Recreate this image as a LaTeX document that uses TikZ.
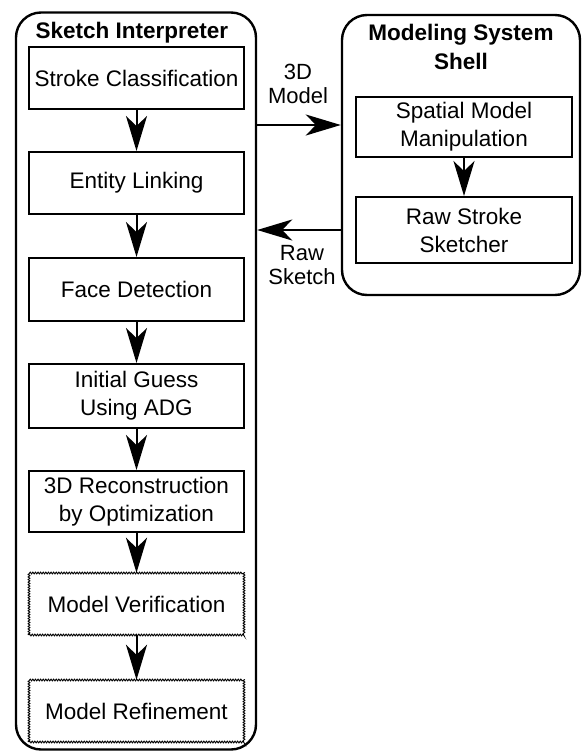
\documentclass[tikz,border=0pt]{standalone}
\usepackage{fontspec}
\setmainfont{Liberation Sans}
\usetikzlibrary{arrows.meta,decorations.pathmorphing}

\tikzset{
  container/.style={draw, line width=2.4pt, rounded corners=25pt, inner sep=0pt},
  stage/.style={draw, line width=2pt, inner sep=0pt, align=center,
    font=\fontsize{22.5}{28}\selectfont},
  pending/.style={inner sep=0pt, align=center, font=\fontsize{22.5}{28}\selectfont,
    postaction={draw, line width=0.9pt,
      decorate, decoration={zigzag, amplitude=0.9pt, segment length=2.6pt}}},
  heading/.style={font=\bfseries\fontsize{22.5}{29}\selectfont, align=center, inner sep=0pt},
  label/.style={font=\fontsize{22}{24}\selectfont, align=center, inner sep=0pt},
  flow/.style={line width=2pt,
    -{Stealth[length=35pt, width=21pt, inset=10pt]}},
}

\begin{document}
\begin{tikzpicture}[x=1pt, y=-1pt]
  \useasboundingbox (0,0) rectangle (582,753);

  % containers
  \node[container, minimum width=240pt, minimum height=737pt] (interp) at (136,381) {};
  \node[container, minimum width=238pt, minimum height=280pt] (shell) at (461,155) {};

  \node[heading] (interpT) at (132,33) {Sketch Interpreter};
  \node[heading] (shellT) at (461,47) {Modeling System\\Shell};

  % sketch interpreter pipeline
  \node[stage, minimum width=215pt, minimum height=62pt] (s1) at (136.5,78) {Stroke Classification};
  \node[stage, minimum width=215pt, minimum height=62pt] (s2) at (136.5,183) {Entity Linking};
  \node[stage, minimum width=215pt, minimum height=63pt] (s3) at (136.5,289.5) {Face Detection};
  \node[stage, minimum width=215pt, minimum height=64pt] (s4) at (136.5,396) {Initial Guess\\Using ADG};
  \node[stage, minimum width=215pt, minimum height=61pt] (s5) at (136.5,501.5) {3D Reconstruction\\by Optimization};
  \node[pending, minimum width=215pt, minimum height=62pt] (s6) at (136.5,604) {Model Verification};
  \node[pending, minimum width=215pt, minimum height=62pt] (s7) at (136.5,711) {Model Refinement};

  \foreach \a/\b in {s1/s2, s2/s3, s3/s4, s4/s5, s5/s6, s6/s7}
    \draw[flow] (\a.south) -- (\b.north);

  % modeling system shell
  \node[stage, minimum width=216pt, minimum height=60pt] (m1) at (464,127) {Spatial Model\\Manipulation};
  \node[stage, minimum width=216pt, minimum height=66pt] (m2) at (464,230) {Raw Stroke\\Sketcher};
  \draw[flow] (m1.south) -- (m2.north);

  % exchange between the two modules
  \coordinate (outA) at (interp.east |- 0,125);
  \coordinate (inA) at (shell.west |- 0,125);
  \draw[flow] (outA) -- (inA);
  \draw[flow] (shell.west |- m2.west) -- (interp.east |- m2.west);

  \node[label] (modelLbl) at (298,84) {3D\\Model};
  \node[label] (sketchLbl) at (302,265) {Raw\\Sketch};
\end{tikzpicture}
\end{document}
